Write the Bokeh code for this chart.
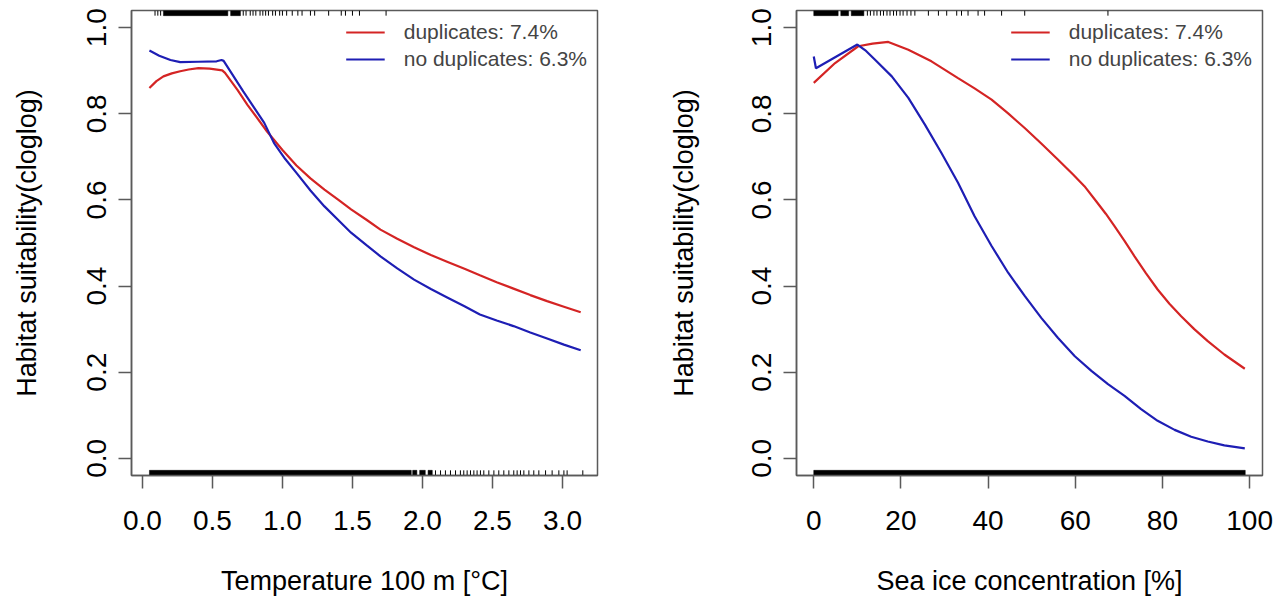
from bokeh.plotting import figure
from bokeh.layouts import row
from bokeh.models import (FixedTicker, Legend, LegendItem, Range1d,
                          NumeralTickFormatter)
from bokeh.embed import file_html
from bokeh.resources import INLINE

# ---- response curves: temperature at 100 m ----
temp_dup_x = [0.05, 0.10, 0.15, 0.21, 0.27, 0.33, 0.40, 0.48, 0.57, 0.59,
              0.68, 0.75, 0.89, 1.00, 1.10, 1.20, 1.30, 1.40, 1.49, 1.60,
              1.70, 1.82, 1.94, 2.06, 2.18, 2.30, 2.41, 2.53, 2.65, 2.77,
              2.89, 3.01, 3.13]
temp_dup_y = [0.860, 0.876, 0.887, 0.894, 0.899, 0.903, 0.906, 0.905, 0.901,
              0.895, 0.855, 0.821, 0.759, 0.716, 0.680, 0.650, 0.624, 0.600,
              0.578, 0.554, 0.531, 0.510, 0.490, 0.472, 0.456, 0.440, 0.425,
              0.409, 0.394, 0.379, 0.365, 0.352, 0.339]
temp_nodup_x = [0.05, 0.12, 0.20, 0.27, 0.40, 0.53, 0.565, 0.58, 0.72, 0.87,
                0.94, 1.02, 1.10, 1.20, 1.30, 1.40, 1.49, 1.60, 1.70, 1.82,
                1.94, 2.06, 2.18, 2.30, 2.41, 2.53, 2.65, 2.77, 2.89, 3.01,
                3.13]
temp_nodup_y = [0.947, 0.935, 0.925, 0.920, 0.921, 0.922, 0.925, 0.923, 0.852,
                0.779, 0.732, 0.695, 0.663, 0.622, 0.585, 0.553, 0.524, 0.495,
                0.469, 0.441, 0.415, 0.393, 0.373, 0.353, 0.334, 0.320, 0.307,
                0.292, 0.278, 0.264, 0.251]

# ---- response curves: sea ice concentration ----
ice_dup_x = [0.0, 4.9, 10.2, 13.5, 17.1, 21.7, 27.0, 33.1, 36.9, 40.8, 44.6,
             48.4, 52.2, 56.0, 59.5, 62.1, 64.8, 67.0, 69.0, 71.3, 73.6, 76.2,
             78.9, 81.6, 84.3, 87.3, 90.4, 94.2, 98.9]
ice_dup_y = [0.872, 0.918, 0.957, 0.963, 0.967, 0.949, 0.922, 0.883, 0.859,
             0.833, 0.801, 0.767, 0.731, 0.694, 0.659, 0.632, 0.597, 0.568,
             0.539, 0.505, 0.469, 0.430, 0.392, 0.359, 0.330, 0.300, 0.272,
             0.241, 0.208]
ice_nodup_x = [0.0, 0.5, 10.0, 12.0, 14.0, 17.9, 21.7, 25.5, 29.3, 33.1, 36.9,
               40.8, 44.6, 48.4, 52.2, 56.0, 59.9, 63.7, 67.5, 71.3, 75.1,
               78.9, 82.8, 86.6, 90.4, 94.2, 98.9]
ice_nodup_y = [0.933, 0.906, 0.961, 0.946, 0.926, 0.887, 0.837, 0.775, 0.709,
               0.640, 0.562, 0.493, 0.431, 0.377, 0.326, 0.280, 0.237, 0.203,
               0.172, 0.145, 0.114, 0.087, 0.066, 0.050, 0.039, 0.030, 0.023]

# ---- rugs: presence (top) and background (bottom) ----
temp_pres_spans = [(0.15, 0.61), (0.63, 0.70)]
temp_pres_ticks = [0.09, 0.11, 0.13, 0.72, 0.74, 0.77, 0.79, 0.81, 0.84, 0.86,
                   0.88, 0.90, 0.93, 0.95, 0.98, 1.00, 1.03, 1.07, 1.11, 1.14,
                   1.20, 1.23, 1.33, 1.42, 1.45, 1.50, 1.55, 1.74]
temp_bg_spans = [(0.05, 1.92), (1.93, 1.96), (1.98, 2.02), (2.04, 2.07)]
temp_bg_ticks = [2.093, 2.129, 2.164, 2.200, 2.236, 2.271, 2.295, 2.319,
                 2.343, 2.367, 2.390, 2.414, 2.438, 2.474, 2.510, 2.545,
                 2.581, 2.617, 2.652, 2.676, 2.700, 2.724, 2.760, 2.795,
                 2.831, 2.879, 2.926, 2.974, 3.010, 3.033, 3.145]

ice_pres_spans = [(0.0, 5.6), (6.2, 8.0), (8.6, 11.5)]
ice_pres_ticks = [12.3, 13.0, 13.8, 14.5, 15.3, 16.0, 16.8, 17.5, 18.3, 19.0,
                  19.8, 20.5, 21.4, 22.3, 23.2, 26.3, 28.6, 30.5, 32.8, 33.9,
                  35.4, 37.7, 39.2, 43.1, 48.4, 67.5]
ice_bg_spans = [(0.0, 99.0)]
ice_bg_ticks = []

# ---- axes ----
y_ticks = [0.0, 0.2, 0.4, 0.6, 0.8, 1.0]
temp_ticks = [0.0, 0.5, 1.0, 1.5, 2.0, 2.5, 3.0]
ice_ticks = [0, 20, 40, 60, 80, 100]

labels = ["duplicates: 7.4%", "no duplicates: 6.3%"]
colors = ["#d42424", "#1e1eb4"]

FONT = "Liberation Sans"
AXIS_GREY = "#5a5a5a"
Y_LO, Y_HI = -0.04, 1.04


def panel(xr, xticks, xfmt, xlabel, curves, pres, bg, border_left,
          border_right, ylabel_standoff):
    p = figure(frame_width=466, frame_height=465,
               x_range=Range1d(*xr), y_range=Range1d(Y_LO, Y_HI),
               output_backend="svg", toolbar_location=None,
               min_border_left=border_left, min_border_right=border_right,
               min_border_top=10, min_border_bottom=131,
               background_fill_color="white", border_fill_color="white")
    p.grid.visible = False
    p.outline_line_color = AXIS_GREY
    p.outline_line_width = 1.5

    for ax in (p.xaxis[0], p.yaxis[0]):
        ax.axis_line_color = AXIS_GREY
        ax.axis_line_width = 1.5
        ax.major_tick_line_color = AXIS_GREY
        ax.major_tick_line_width = 1.5
        ax.major_tick_in = 0
        ax.major_tick_out = 13
        ax.minor_tick_line_color = None
        ax.major_label_text_font = FONT
        ax.major_label_text_font_size = "28px"
        ax.major_label_text_color = "black"
        ax.axis_label_text_font = FONT
        ax.axis_label_text_font_size = "27px"
        ax.axis_label_text_font_style = "normal"
        ax.axis_label_text_color = "black"

    p.xaxis.ticker = FixedTicker(ticks=xticks)
    p.xaxis.formatter = NumeralTickFormatter(format=xfmt)
    p.xaxis.axis_label = xlabel
    p.xaxis.major_label_standoff = 22
    p.xaxis.axis_label_standoff = 33

    p.yaxis.ticker = FixedTicker(ticks=y_ticks)
    p.yaxis.formatter = NumeralTickFormatter(format="0.0")
    p.yaxis.axis_label = "Habitat suitability(cloglog)"
    p.yaxis.major_label_orientation = "vertical"
    p.yaxis.major_label_standoff = 12
    p.yaxis.axis_label_standoff = ylabel_standoff

    # rug ticks, drawn inward from the top and bottom of the frame
    tick_len = 0.012
    for spans, ticks, y0, y1 in ((pres[0], pres[1], Y_HI - tick_len, Y_HI),
                                 (bg[0], bg[1], Y_LO, Y_LO + tick_len)):
        if spans:
            p.quad(left=[s[0] for s in spans], right=[s[1] for s in spans],
                   bottom=y0, top=y1, fill_color="black", line_color="black",
                   line_width=0.5)
        if ticks:
            p.segment(x0=ticks, x1=ticks, y0=y0, y1=y1, line_color="black",
                      line_width=1)

    items = []
    for (xs, ys), lab, col in zip(curves, labels, colors):
        r = p.line(xs, ys, line_color=col, line_width=2.2)
        items.append(LegendItem(label=lab, renderers=[r]))

    leg = Legend(items=items, location="top_right", border_line_alpha=0,
                 background_fill_alpha=0, label_text_font=FONT,
                 label_text_font_size="21px", glyph_width=39, glyph_height=24,
                 label_standoff=19, spacing=3, padding=10, margin=0,
                 label_height=24)
    p.add_layout(leg)
    return p


left = panel((-0.078, 3.25), temp_ticks, "0.0", "Temperature 100 m [°C]",
             [(temp_dup_x, temp_dup_y), (temp_nodup_x, temp_nodup_y)],
             (temp_pres_spans, temp_pres_ticks), (temp_bg_spans, temp_bg_ticks),
             131, 43, 43)
right = panel((-3.96, 102.96), ice_ticks, "0", "Sea ice concentration [%]",
              [(ice_dup_x, ice_dup_y), (ice_nodup_x, ice_nodup_y)],
              (ice_pres_spans, ice_pres_ticks), (ice_bg_spans, ice_bg_ticks),
              156, 21, 51)

layout = row(left, right, spacing=0)
open("out.html", "w").write(file_html(layout, INLINE))
